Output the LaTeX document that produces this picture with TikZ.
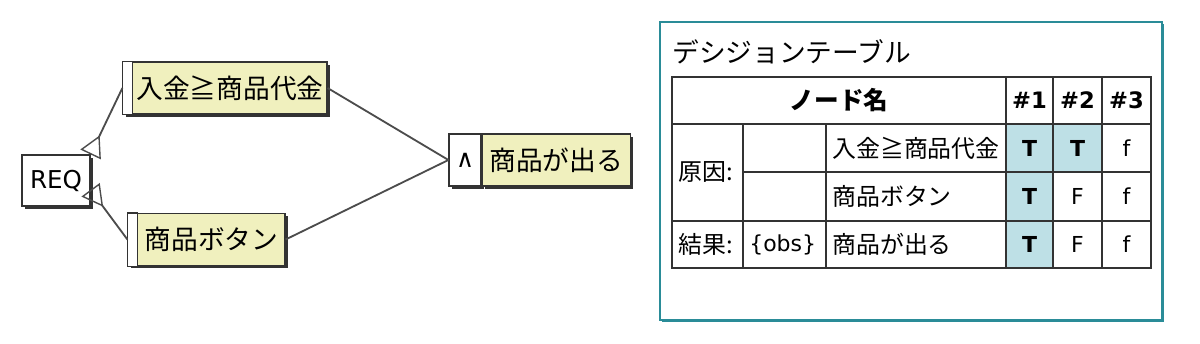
\documentclass[tikz,border=0pt]{standalone}
\usepackage{fontspec}
\setmainfont{Noto Sans CJK JP}
\newfontfamily\latin{DejaVu Sans}[Scale=0.92]
\usetikzlibrary{arrows.meta, positioning, shadows}

\definecolor{nodeyellow}{RGB}{240,240,190}
\definecolor{cellblue}{RGB}{190,224,230}
\definecolor{panelteal}{RGB}{42,140,152}
\definecolor{gridgray}{RGB}{51,51,51}

\newcommand{\tval}{\latin\bfseries T}

\begin{document}
\begin{tikzpicture}[
    x=0.025cm, y=-0.025cm,
    font=\fontsize{19pt}{23pt}\selectfont,
    box/.style   = {draw=gridgray, line width=0.8pt, inner sep=0pt, minimum height=1.3cm,
                    general shadow={fill=gridgray, shadow xshift=1.8pt, shadow yshift=-1.8pt}},
    cause/.style = {box, fill=nodeyellow},
    opbox/.style = {box, fill=white},
    link/.style  = {draw=black!70, line width=1.3pt},
    gen/.style   = {link, {Triangle[open, reversed, length=15pt, width=16pt, line width=1pt]}-},
    panel/.style = {draw=panelteal, line width=1.4pt, fill=white, inner sep=0pt,
                    general shadow={fill=panelteal, shadow xshift=1.2pt, shadow yshift=-1.2pt}},
    grid/.style  = {draw=gridgray, line width=1.2pt},
    cell/.style  = {inner sep=0pt, font=\fontsize{17pt}{20pt}\selectfont},
    head/.style  = {cell, font=\fontsize{17.5pt}{20pt}\selectfont\bfseries}
]
\useasboundingbox (0,0) rectangle (1200,343);

%% --- Graph -----------------------------------------------------------------
\node[opbox, minimum width=1.7cm, minimum height=1.275cm] (req) at (56,180.5) {\latin REQ};
\node[cause, minimum width=5.1cm] (kin) at (225,88) {\hspace{0.25cm}入金≧商品代金};
\node[cause, minimum width=3.925cm] (btn) at (206.5,239.5) {\hspace{0.25cm}商品ボタン};
\foreach \n in {kin, btn}
  \draw[line width=0.8pt, draw=gridgray, fill=white] (\n.north west) rectangle ([xshift=0.25cm]\n.south west);

\node[opbox, minimum width=0.8cm] (and) at (465,160) {\latin ∧};
\node[cause, minimum width=3.7cm, right=0pt of and] (out) {商品が出る};

\draw[gen] (req.north east) -- (kin.west);
\draw[gen] (req.-15) -- (btn.west);
\draw[link] (kin.east) -- (and.west);
\draw[link] (btn.east) -- (and.west);

%% --- Decision table --------------------------------------------------------
\node[panel, minimum width=12.55cm, minimum height=7.45cm] (dt) at (911,171) {};
\node[anchor=west, inner sep=0pt] (title) at (672,52) {デシジョンテーブル};

\fill[cellblue] (1006,124) rectangle (1053,268);
\fill[cellblue] (1053,124) rectangle (1102,172);
\draw[grid] (672,77) rectangle (1151,268);
\draw[grid] (672,124) -- (1151,124) (743,172) -- (1151,172) (672,221) -- (1151,221);
\foreach \x in {743,826}
  \draw[grid] (\x,124) -- (\x,268);
\foreach \x in {1006,1053,1102}
  \draw[grid] (\x,77) -- (\x,268);

\node[head] (hname) at (839,100.5) {ノード名};
\foreach \x [count=\i] in {1029.5,1077.5,1126.5}
  \node[head] (h\i) at (\x,100.5) {\latin\#\i};

\node[cell, anchor=west] (cause) at (678,172) {原因:};
\node[cell, anchor=west] (effect) at (678,244.5) {結果:};
\node[cell, anchor=west] (obs) at (749,244.5) {\latin\{obs\}};
\node[cell, anchor=west] (n1) at (832,148) {入金≧商品代金};
\node[cell, anchor=west] (n2) at (832,196.5) {商品ボタン};
\node[cell, anchor=west] (n3) at (832,244.5) {商品が出る};

\foreach \y/\a/\b/\c [count=\i] in {148/\tval/\tval/f, 196.5/\tval/F/f, 244.5/\tval/F/f} {
  \node[cell] (v\i-1) at (1029.5,\y) {\latin\a};
  \node[cell] (v\i-2) at (1077.5,\y) {\latin\b};
  \node[cell] (v\i-3) at (1126.5,\y) {\latin\c};
}
\end{tikzpicture}
\end{document}
